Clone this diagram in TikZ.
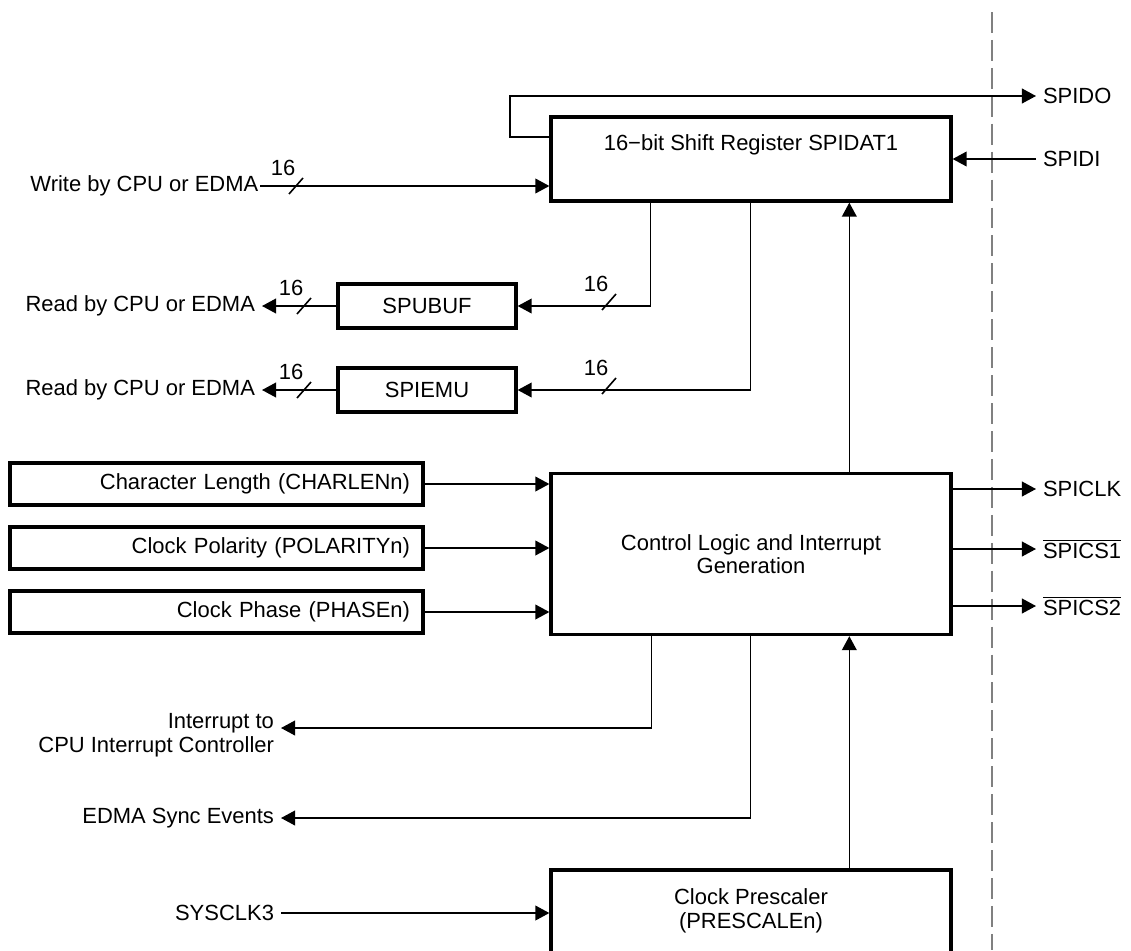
\documentclass[tikz,border=0pt]{standalone}
\usepackage{fontspec}
\setmainfont{Liberation Sans}
\usetikzlibrary{arrows.meta, positioning, calc}
\tikzset{
	blockbox/.style={draw, line width=1.9pt, fill=white, inner sep=0pt}
}
\tikzset{
	regbox/.style={blockbox, minimum height=0.84cm, text width=7.74cm, inner xsep=0.26cm, align=right}
}
\tikzset{
	wire/.style={line width=0.9pt}
}
\tikzset{
	sig/.style={wire, -{Triangle[length=8pt, width=8.4pt]}}
}
\tikzset{
	sigtext/.style={inner sep=0pt, outer sep=4pt}
}
\tikzset{
	busw/.pic={
			\draw[wire] (-7,8) -- (7,-8);
			\node (-n) at (-13,-18) {16};
		}
}

\begin{document}
\begin{tikzpicture}[x=0.02cm, y=-0.02cm, font=\fontsize{12.5}{13.5}\selectfont]

			\clip (0,0) rectangle (1131,950);

			% boundary of the device
			\coordinate (dtop) at (992,12);
			\coordinate (dbot) at (992,950);
			\draw[wire, gray, dash pattern=on 11.9pt off 4pt] (dtop) -- (dbot);

			\begin{scope}
				\node[blockbox, minimum width=8cm, minimum height=1.68cm] (shreg) at (751,159) {};
				\node (shregtxt) at (751,145) {16−bit Shift Register SPIDAT1};

				\node[blockbox, minimum width=3.56cm, minimum height=0.88cm] (spubuf) at (427,306) {SPUBUF};
				\node[blockbox, minimum width=3.56cm, minimum height=0.88cm] (spiemu) at (427,390) {SPIEMU};

				\node[blockbox, minimum width=8cm, minimum height=3.22cm, align=center] (ctrl) at (751,554) {Control Logic and Interrupt\\Generation};

				\node[regbox] (charlen) at (216.5,484) {Character Length (CHARLENn)};
				\node[regbox] (polarity) at (216.5,548) {Clock Polarity (POLARITYn)};
				\node[regbox] (phase) at (216.5,612) {Clock Phase (PHASEn)};

				\node[blockbox, minimum width=8cm, minimum height=2.4cm] (presc) at (751,930) {};
				\node[align=center] (presctxt) at (751,911) {Clock Prescaler\\(PRESCALEn)};
			\end{scope}

			\begin{scope}
				% serial side
				\node[sigtext, anchor=west] (spido) at (1036,96) {SPIDO};
				\node[sigtext, anchor=west] (spidi) at (1036,159) {SPIDI};
				\node[sigtext, anchor=west] (spiclk) at (1036,489) {SPICLK};
				\node[sigtext, anchor=west] (spics1) at (1036,549) {$\overline{\mbox{SPICS1}}$};
				\node[sigtext, anchor=west] (spics2) at (1036,606) {$\overline{\mbox{SPICS2}}$};

				\coordinate (fbout) at (551,137);
				\draw[sig] (fbout) -- ++(-41,0) |- (spido.west);
				\draw[sig] (spidi.west) -- (spidi.west -| shreg.east);
				\draw[sig] (ctrl.east |- spiclk.west) -- (spiclk.west);
				\draw[sig] (ctrl.east |- spics1.west) -- (spics1.west);
				\draw[sig] (ctrl.east |- spics2.west) -- (spics2.west);
			\end{scope}

			\begin{scope}
				% CPU side
				\node[sigtext, outer sep=1pt, anchor=east] (wrcpu) at (260,186) {Write by CPU or EDMA};
				\node[sigtext, anchor=east] (rdbuf) at (262,306) {Read by CPU or EDMA};
				\node[sigtext, anchor=east] (rdemu) at (262,390) {Read by CPU or EDMA};

				\draw[sig] (wrcpu.east) -- (wrcpu.east -| shreg.west);
				\draw[sig] (spubuf.west) -- (rdbuf.east);
				\draw[sig] (spiemu.west) -- (rdemu.east);
				\draw[sig] ([xshift=2.02cm]shreg.south west) |- (spubuf.east);
				\draw[sig] ([xshift=4.02cm]shreg.south west) |- (spiemu.east);

				\pic (bw) at (296,186) {busw};
				\pic (bra) at (304,306) {busw};
				\pic (brb) at (304,390) {busw};
				\pic (bba) at (609,302) {busw};
				\pic (bbb) at (609,386) {busw};
			\end{scope}

			\begin{scope}
				\draw[sig] (charlen.east) -- (charlen.east -| ctrl.west);
				\draw[sig] (polarity.east) -- (polarity.east -| ctrl.west);
				\draw[sig] (phase.east) -- (phase.east -| ctrl.west);
				\draw[sig] ([xshift=6cm]ctrl.north west) -- ([xshift=6cm]shreg.south west);

				\node[sigtext, anchor=east, align=right] (irq) at (281,735) {Interrupt to\\CPU Interrupt Controller};
				\node[sigtext, anchor=east] (edma) at (281,818) {EDMA Sync Events};
				\node[sigtext, anchor=east] (sysclk) at (281,913) {SYSCLK3};

				\draw[sig] ([xshift=2.04cm]ctrl.south west) |- ([yshift=0.14cm]irq.east);
				\draw[sig] ([xshift=4.02cm]ctrl.south west) |- (edma.east);
				\draw[sig] ([xshift=6cm]presc.north west) -- ([xshift=6cm]ctrl.south west);
				\draw[sig] (sysclk.east) -- (sysclk.east -| presc.west);
			\end{scope}

		\end{tikzpicture}
\end{document}
